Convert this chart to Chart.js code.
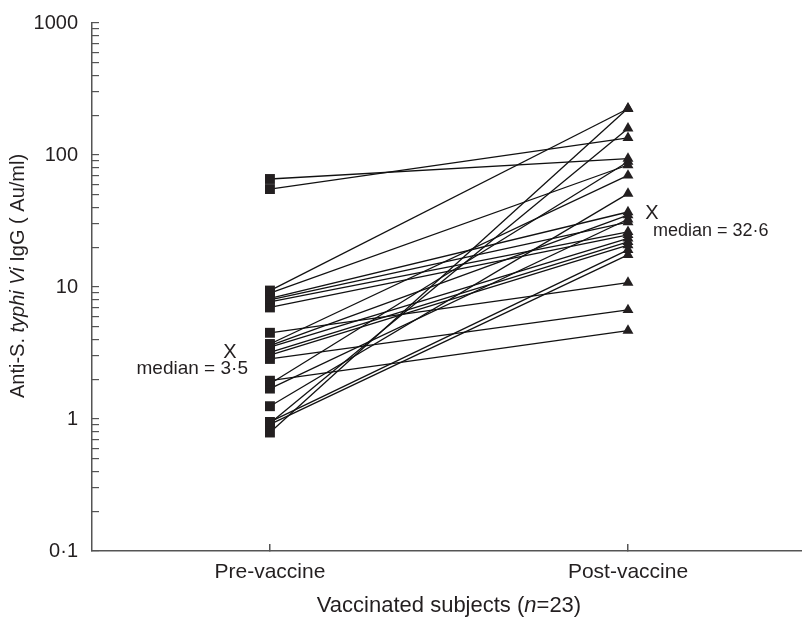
<!DOCTYPE html>
<html><head><meta charset="utf-8">
<script src="https://cdn.jsdelivr.net/npm/chart.js@4/dist/chart.umd.min.js"></script>
<style>html,body{margin:0;padding:0;background:#fff;overflow:hidden}canvas{display:block}</style>
</head><body><canvas id="c" width="802" height="620" style="width:802px;height:620px"></canvas>
<script>
const categories = ['Pre-vaccine', 'Post-vaccine'];
const preValues  = [65.8, 55.2, 9.4, 9.0, 8.2, 8.0, 7.7, 7.0, 4.5, 3.7, 3.6, 3.5, 3.2, 3.05, 2.85, 1.95, 1.85, 1.7, 1.25, 0.95, 0.93, 0.91, 0.79];
const postValues = [94, 135, 224, 84, 37, 31, 26.2, 24.8, 10.8, 70, 35, 23.4, 22, 20.8, 6.7, 4.67, 89, 32.6, 51, 19.1, 159, 17.5, 226];
const yTickValues = [0.1, 1, 10, 100, 1000];
const yTickLabels = ['0·1', '1', '10', '100', '1000'];
const medians = [3.5, 32.6];
const medianLabels = ['median = 3·5', 'median = 32·6'];
const yTitleParts = [['Anti-S. ', false], ['typhi Vi', true], [' IgG ( Au/ml)', false]];
const xTitleParts = [['Vaccinated subjects (', false], ['n', true], ['=23)', false]];

const FONT = "'Liberation Sans', Arial, sans-serif";
const INK = '#231f20';
const AXIS = '#555555';

const datasets = preValues.map((p, i) => ({
  data: [{x: 0, y: p}, {x: 1, y: postValues[i]}],
  borderColor: '#111111',
  borderWidth: 1.3,
  pointStyle: ['rect', 'triangle'],
  pointRadius: [7, 6.3],
  pointBackgroundColor: INK,
  pointBorderColor: INK,
  pointBorderWidth: 0,
  tension: 0,
  fill: false
}));

function minorTicks() {
  const out = [];
  for (let e = -1; e <= 2; e++) {
    for (let k = 1; k <= 9; k++) out.push(Number((k * Math.pow(10, e)).toPrecision(3)));
  }
  out.push(1000);
  return out;
}

function drawParts(ctx, parts, size, x, y) {
  let total = 0;
  const widths = parts.map(([t, it]) => {
    ctx.font = (it ? 'italic ' : '') + size + 'px ' + FONT;
    const w = ctx.measureText(t).width; total += w; return w;
  });
  let cx = x - total / 2;
  parts.forEach(([t, it], i) => {
    ctx.font = (it ? 'italic ' : '') + size + 'px ' + FONT;
    ctx.fillText(t, cx, y);
    cx += widths[i];
  });
}

const textPlugin = {
  id: 'texts',
  afterDraw(chart) {
    const ctx = chart.ctx;
    const xs = chart.scales.x, ys = chart.scales.y;
    ctx.save();
    ctx.fillStyle = INK;
    ctx.textBaseline = 'middle';
    ctx.textAlign = 'left';
    // y title
    ctx.save();
    ctx.translate(18, 276);
    ctx.rotate(-Math.PI / 2);
    drawParts(ctx, yTitleParts, 20, 0, 0);
    ctx.restore();
    // x title
    drawParts(ctx, xTitleParts, 22, 449, 606);
    // medians
    const px0 = xs.getPixelForValue(0), px1 = xs.getPixelForValue(1);
    const py0 = ys.getPixelForValue(medians[0]), py1 = ys.getPixelForValue(medians[1]);
    ctx.font = '20px ' + FONT;
    ctx.textAlign = 'center';
    ctx.fillText('X', px0 - 40, py0 + 5);
    ctx.fillText('X', px1 + 24, py1 - 6);
    ctx.font = '19px ' + FONT;
    ctx.textAlign = 'right';
    ctx.fillText(medianLabels[0], px0 - 22, py0 + 22);
    ctx.font = '18px ' + FONT;
    ctx.textAlign = 'left';
    ctx.fillText(medianLabels[1], px1 + 25, py1 + 12);
    ctx.restore();
  }
};

new Chart(document.getElementById('c'), {
  type: 'line',
  data: { datasets },
  options: {
    responsive: false,
    maintainAspectRatio: false,
    animation: false,
    events: [],
    layout: { autoPadding: false, padding: { top: 23, right: 0, left: 0, bottom: 0 } },
    plugins: { legend: { display: false }, tooltip: { enabled: false } },
    scales: {
      x: {
        type: 'linear',
        min: -0.497,
        max: 1.486,
        afterBuildTicks: s => { s.ticks = [{value: 0}, {value: 1}]; },
        afterFit: s => { s.height = 69; s.paddingLeft = 0; s.paddingRight = 0; },
        ticks: {
          callback: v => categories[v] ?? '',
          font: { family: FONT, size: 21 },
          color: INK,
          padding: 16,
          autoSkip: false,
          maxRotation: 0
        },
        grid: { drawOnChartArea: false, drawTicks: true, tickLength: -7, color: AXIS, lineWidth: 1.5 },
        border: { color: AXIS, width: 1.5 }
      },
      y: {
        type: 'logarithmic',
        min: 0.1,
        max: 1000,
        afterBuildTicks: s => { s.ticks = minorTicks().map(v => ({value: v})); },
        afterFit: s => { s.width = 92; s.paddingTop = 0; s.paddingBottom = 0; },
        ticks: {
          callback: v => { const i = yTickValues.indexOf(Number(v)); return i >= 0 ? yTickLabels[i] : ''; },
          font: { family: FONT, size: 20 },
          color: INK,
          padding: 21,
          autoSkip: false
        },
        grid: { drawOnChartArea: false, drawTicks: true, tickLength: -7, color: AXIS, lineWidth: 1.2 },
        border: { color: AXIS, width: 1.5 }
      }
    }
  },
  plugins: [textPlugin]
});
</script>
</body></html>
